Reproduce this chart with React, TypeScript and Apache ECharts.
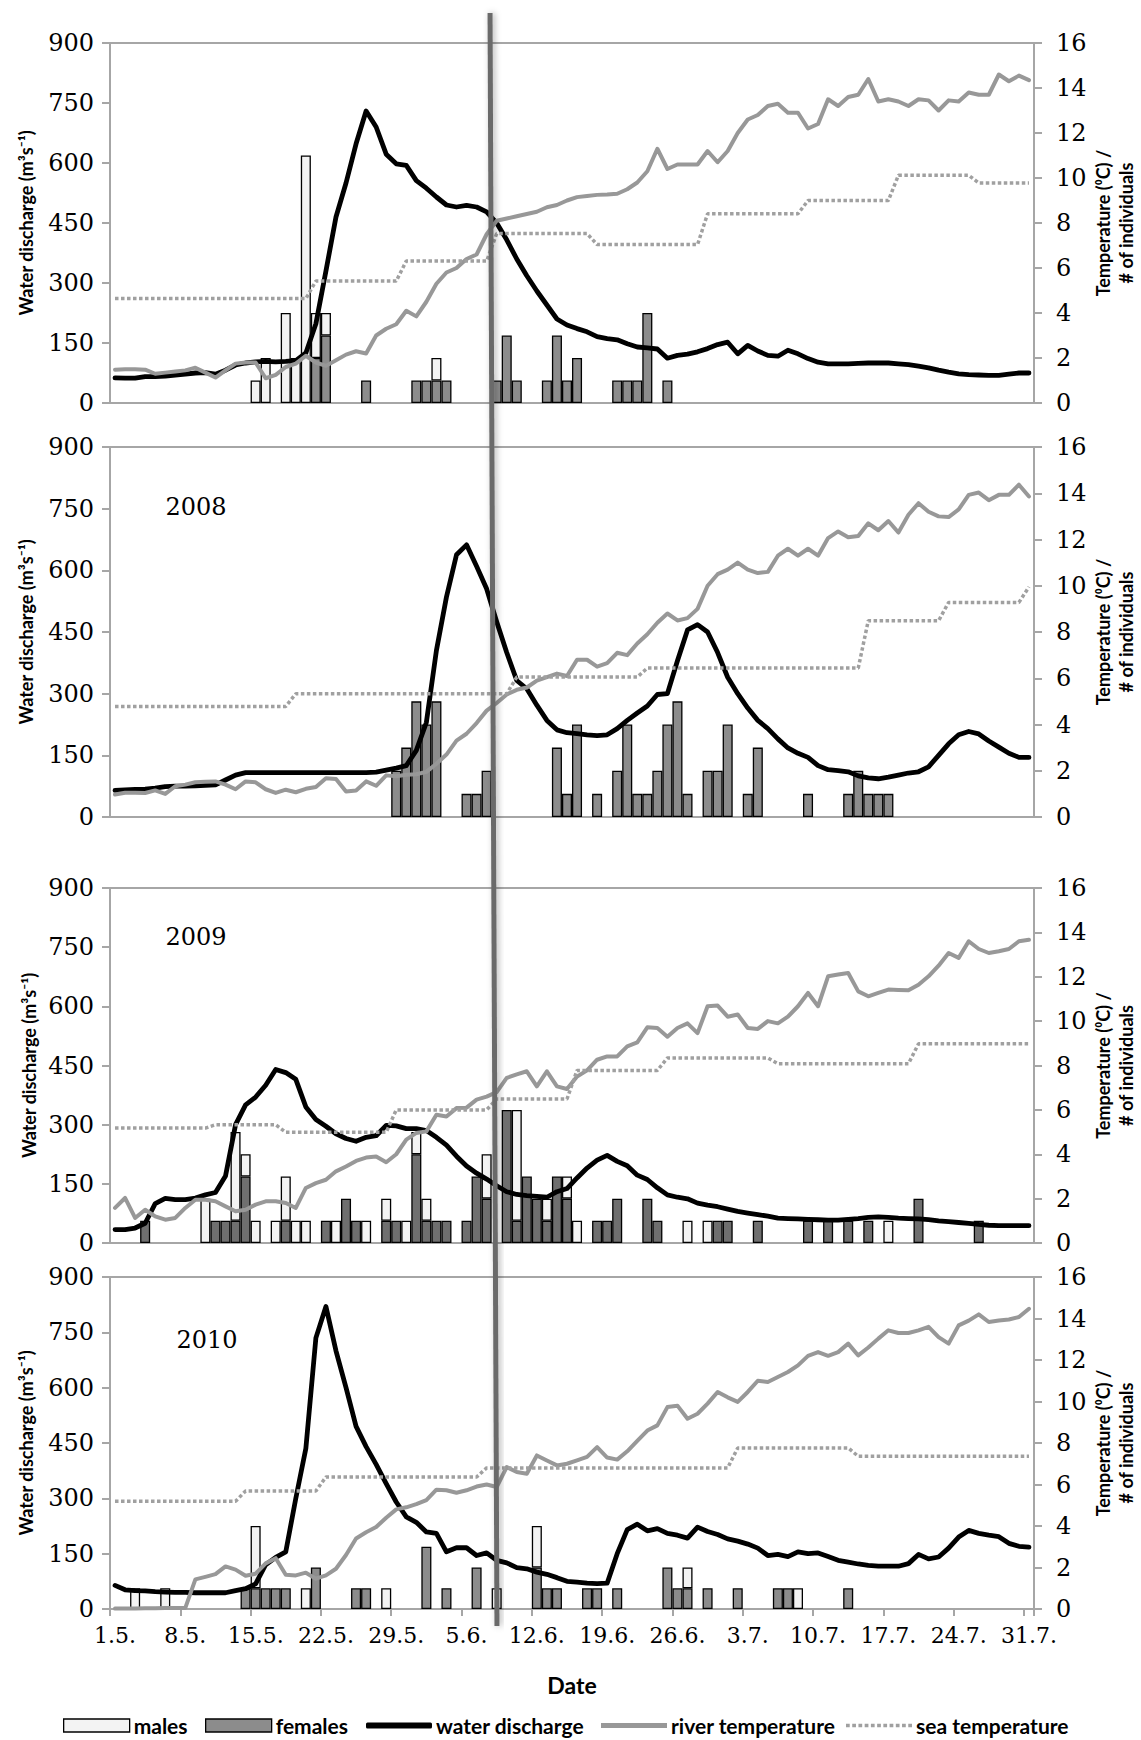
import React, { useEffect, useRef } from "react";
import * as echarts from "echarts";

// ---------- categories (days 1.5. .. 31.7.) ----------
const MONTH_LENGTHS: [number, number][] = [[5, 31], [6, 30], [7, 31]];
const dates: string[] = [];
MONTH_LENGTHS.forEach(([m, n]) => {
  for (let d = 1; d <= n; d++) dates.push(`${d}.${m}.`);
});

const panelYears = ["", "2008", "2009", "2010"];

// ---------- panel 1 ----------
const discharge1 = [
  63, 62, 62, 66, 66, 67, 70, 72, 75, 76,
  72, 82, 95, 100, 103, 104, 103, 104, 106, 125,
  198, 330, 465, 550, 648, 730, 690, 622, 598, 594,
  556, 537, 515, 495, 490, 494, 490, 478, 450, 408,
  360, 318, 280, 245, 210, 195, 186, 178, 166, 161,
  158, 148, 140, 138, 135, 112, 119, 122, 128, 136,
  146, 152, 123, 144, 130, 119, 117, 132, 123, 111,
  102, 98, 98, 98, 99, 100, 100, 100, 98, 96,
  92, 88, 82, 77, 73, 71, 70, 69, 69, 72,
  75, 75,
];
const riverTemp1 = [
  1.48, 1.5, 1.5, 1.48, 1.3, 1.35, 1.4, 1.45, 1.57, 1.35,
  1.13, 1.45, 1.75, 1.8, 1.8, 1.1, 1.25, 1.6, 1.75, 2.1,
  1.8, 1.65, 1.9, 2.15, 2.3, 2.2, 3.0, 3.3, 3.5, 4.1,
  3.85, 4.5, 5.3, 5.8, 6.0, 6.4, 6.6, 7.5, 8.1, 8.2,
  8.3, 8.4, 8.5, 8.7, 8.8, 9.0, 9.15, 9.2, 9.25, 9.27,
  9.3, 9.5, 9.8, 10.3, 11.3, 10.4, 10.6, 10.6, 10.6, 11.2,
  10.7, 11.2, 12.0, 12.6, 12.8, 13.2, 13.3, 12.9, 12.9, 12.2,
  12.4, 13.5, 13.2, 13.6, 13.7, 14.4, 13.4, 13.5, 13.4, 13.2,
  13.5, 13.45, 13.0, 13.45, 13.4, 13.8, 13.7, 13.7, 14.6, 14.3,
  14.55, 14.35,
];
const seaTemp1 = [
  4.64, 4.64, 4.64, 4.64, 4.64, 4.64, 4.64, 4.64, 4.64, 4.64,
  4.64, 4.64, 4.64, 4.64, 4.64, 4.64, 4.64, 4.64, 4.64, 4.64,
  5.42, 5.42, 5.42, 5.42, 5.42, 5.42, 5.42, 5.42, 5.42, 6.31,
  6.31, 6.31, 6.31, 6.31, 6.31, 6.31, 6.31, 6.31, 7.53, 7.53,
  7.53, 7.53, 7.53, 7.53, 7.53, 7.53, 7.53, 7.53, 7.04, 7.04,
  7.04, 7.04, 7.04, 7.04, 7.04, 7.04, 7.04, 7.04, 7.04, 8.41,
  8.41, 8.41, 8.41, 8.41, 8.41, 8.41, 8.41, 8.41, 8.41, 9.0,
  9.0, 9.0, 9.0, 9.0, 9.0, 9.0, 9.0, 9.0, 10.12, 10.12,
  10.12, 10.12, 10.12, 10.12, 10.12, 10.12, 9.78, 9.78, 9.78, 9.78,
  9.78, 9.78,
];
const females1: [number, number][] = [
  [20, 2], [21, 3], [25, 1], [30, 1], [31, 1], [32, 1], [33, 1], [38, 1], [39, 3], [40, 1],
  [43, 1], [44, 3], [45, 1], [46, 2], [50, 1], [51, 1], [52, 1], [53, 4], [55, 1],
];
const males1: [number, number][] = [
  [14, 1], [15, 2], [17, 4], [18, 2], [19, 11], [20, 2], [21, 1], [32, 1],
];

// ---------- panel 2 (2008) ----------
const discharge2 = [
  65, 66, 67, 68, 70, 74, 75, 75, 76, 77,
  78, 90, 102, 108, 108, 108, 108, 108, 108, 108,
  108, 108, 108, 108, 108, 108, 109, 114, 119, 125,
  162, 230, 405, 535, 638, 662, 610, 555, 475, 400,
  332, 312, 272, 235, 212, 205, 203, 200, 198, 200,
  215, 235, 253, 270, 298, 300, 380, 455, 468, 450,
  400, 340, 300, 265, 235, 215, 190, 168, 155, 145,
  125, 115, 113, 110, 100, 95, 93, 97, 102, 107,
  110, 122, 150, 178, 200, 208, 202, 185, 170, 155,
  145, 145,
];
const riverTemp2 = [
  0.97, 1.05, 1.05, 1.04, 1.15, 1.0, 1.33, 1.4, 1.5, 1.52,
  1.54, 1.4, 1.2, 1.54, 1.5, 1.2, 1.04, 1.18, 1.07, 1.22,
  1.3, 1.68, 1.64, 1.1, 1.15, 1.54, 1.35, 1.8, 1.76, 1.83,
  1.85, 1.95, 2.3, 2.7, 3.3, 3.6, 4.06, 4.6, 4.93, 5.3,
  5.5, 5.6, 5.9, 6.05, 6.2, 6.1, 6.8, 6.8, 6.5, 6.65,
  7.1, 7.0, 7.5, 7.9, 8.4, 8.8, 8.5, 8.6, 9.0, 10.0,
  10.5, 10.7, 11.0, 10.7, 10.55, 10.6, 11.3, 11.6, 11.3, 11.6,
  11.3, 12.06, 12.35, 12.1, 12.15, 12.7, 12.4, 12.8, 12.3, 13.07,
  13.57, 13.2, 13.0, 12.97, 13.3, 13.93, 14.03, 13.7, 13.93, 13.93,
  14.37, 13.86,
];
const seaTemp2 = [
  4.78, 4.78, 4.78, 4.78, 4.78, 4.78, 4.78, 4.78, 4.78, 4.78,
  4.78, 4.78, 4.78, 4.78, 4.78, 4.78, 4.78, 4.78, 5.33, 5.33,
  5.33, 5.33, 5.33, 5.33, 5.33, 5.33, 5.33, 5.33, 5.33, 5.33,
  5.33, 5.33, 5.33, 5.33, 5.33, 5.33, 5.33, 5.33, 5.33, 5.33,
  6.05, 6.05, 6.05, 6.05, 6.05, 6.05, 6.05, 6.05, 6.05, 6.05,
  6.05, 6.05, 6.05, 6.44, 6.44, 6.44, 6.44, 6.44, 6.44, 6.44,
  6.44, 6.44, 6.44, 6.44, 6.44, 6.44, 6.44, 6.44, 6.44, 6.44,
  6.44, 6.44, 6.44, 6.44, 6.44, 8.49, 8.49, 8.49, 8.49, 8.49,
  8.49, 8.49, 8.49, 9.28, 9.28, 9.28, 9.28, 9.28, 9.28, 9.28,
  9.28, 9.95,
];
const females2: [number, number][] = [
  [28, 2], [29, 3], [30, 5], [31, 4], [32, 5], [35, 1], [36, 1], [37, 2], [44, 3], [45, 1],
  [46, 4], [48, 1], [50, 2], [51, 4], [52, 1], [53, 1], [54, 2], [55, 4], [56, 5], [57, 1],
  [59, 2], [60, 2], [61, 4], [63, 1], [64, 3], [69, 1], [73, 1], [74, 2], [75, 1], [76, 1],
  [77, 1],
];
const males2: [number, number][] = [];

// ---------- panel 3 (2009) ----------
const discharge3 = [
  34, 34, 38, 50, 100, 113, 110, 110, 114, 122,
  128, 170, 300, 350, 370, 400, 440, 432, 415, 345,
  313, 296, 277, 265, 258, 268, 272, 298, 297, 290,
  290, 285, 268, 248, 220, 195, 177, 162, 145, 130,
  123, 120, 118, 116, 130, 138, 165, 190, 210, 222,
  207, 196, 172, 161, 140, 122, 116, 112, 101, 96,
  92, 86, 80, 76, 72, 68, 63, 62, 61, 60,
  59, 58, 58, 60, 62, 65, 66, 65, 63, 62,
  61, 59, 56, 54, 52, 50, 47, 45, 44, 44,
  44, 44,
];
const riverTemp3 = [
  1.58, 2.03, 1.13, 1.5, 1.2, 1.05, 1.13, 1.58, 1.95, 1.95,
  1.88, 1.65, 1.43, 1.5, 1.73, 1.88, 1.88, 1.8, 1.58, 2.48,
  2.7, 2.85, 3.23, 3.45, 3.7, 3.85, 3.9, 3.64, 4.0, 4.66,
  4.96, 5.03, 5.78, 5.7, 6.08, 6.1, 6.46, 6.6, 6.8, 7.44,
  7.6, 7.74, 7.06, 7.74, 7.06, 6.94, 7.5, 7.78, 8.26, 8.41,
  8.41, 8.86, 9.04, 9.72, 9.69, 9.3, 9.69, 9.9, 9.46, 10.67,
  10.7, 10.2, 10.3, 9.69, 9.65, 10.0, 9.9, 10.2, 10.67, 11.27,
  10.67, 12.02, 12.1, 12.17, 11.34, 11.12, 11.27, 11.42, 11.4, 11.39,
  11.64, 12.02, 12.5, 13.07, 12.85, 13.6, 13.25, 13.07, 13.15, 13.25,
  13.6, 13.67,
];
const seaTemp3 = [
  5.18, 5.18, 5.18, 5.18, 5.18, 5.18, 5.18, 5.18, 5.18, 5.18,
  5.33, 5.33, 5.33, 5.33, 5.33, 5.33, 5.33, 4.99, 4.99, 4.99,
  4.99, 4.99, 4.99, 4.99, 4.99, 4.99, 4.99, 4.99, 6.0, 6.0,
  6.0, 6.0, 6.0, 6.0, 6.0, 6.0, 6.0, 6.0, 6.49, 6.49,
  6.49, 6.49, 6.49, 6.49, 6.49, 6.49, 7.78, 7.78, 7.78, 7.78,
  7.78, 7.78, 7.78, 7.78, 7.78, 8.34, 8.34, 8.34, 8.34, 8.34,
  8.34, 8.34, 8.34, 8.34, 8.34, 8.34, 8.08, 8.08, 8.08, 8.08,
  8.08, 8.08, 8.08, 8.08, 8.08, 8.08, 8.08, 8.08, 8.08, 8.08,
  8.98, 8.98, 8.98, 8.98, 8.98, 8.98, 8.98, 8.98, 8.98, 8.98,
  8.98, 8.98,
];
const females3: [number, number][] = [
  [3, 1], [10, 1], [11, 1], [12, 1], [13, 3], [17, 1], [21, 1], [23, 2], [24, 1], [27, 1],
  [28, 1], [30, 4], [31, 1], [32, 1], [33, 1], [35, 1], [36, 3], [37, 2], [39, 6], [40, 1],
  [41, 3], [42, 2], [43, 1], [44, 3], [45, 2], [48, 1], [49, 1], [50, 2], [53, 2], [54, 1],
  [60, 1], [61, 1], [64, 1], [69, 1], [71, 1], [73, 1], [75, 1], [80, 2], [86, 1],
];
const males3: [number, number][] = [
  [9, 2], [12, 4], [13, 1], [14, 1], [16, 1], [17, 2], [18, 1], [19, 1], [22, 1], [25, 1],
  [27, 1], [29, 1], [30, 1], [31, 1], [37, 2], [40, 5], [43, 1], [45, 1], [46, 1], [57, 1],
  [59, 1], [77, 1],
];

// ---------- panel 4 (2010) ----------
const discharge4 = [
  64, 52, 50, 49, 47, 46, 45, 45, 44, 44,
  44, 44, 50, 55, 68, 120, 140, 155, 300, 435,
  735, 820, 700, 600, 495, 440, 392, 340, 290, 250,
  235, 209, 205, 155, 166, 166, 145, 152, 132, 125,
  112, 109, 100, 94, 85, 75, 73, 70, 69, 70,
  150, 215, 230, 212, 218, 205, 200, 192, 222, 210,
  202, 190, 184, 176, 165, 145, 148, 142, 155, 150,
  152, 142, 132, 127, 122, 118, 116, 116, 116, 123,
  148, 136, 141, 165, 195, 213, 205, 200, 196, 178,
  170, 168,
];
const riverTemp4 = [
  0.02, 0.03, 0.03, 0.04, 0.04, 0.05, 0.05, 0.05, 1.43, 1.55,
  1.68, 2.05, 1.9, 1.6, 1.7, 2.2, 2.45, 1.65, 1.62, 1.75,
  1.46, 1.62, 1.94, 2.6, 3.4, 3.7, 3.95, 4.4, 4.8, 4.9,
  5.05, 5.25, 5.75, 5.72, 5.6, 5.72, 5.9, 6.0, 5.88, 6.84,
  6.6, 6.52, 7.4, 7.16, 6.92, 7.0, 7.16, 7.33, 7.8, 7.3,
  7.2, 7.6, 8.1, 8.6, 8.85, 9.73, 9.8, 9.17, 9.41, 9.9,
  10.46, 10.2, 9.98, 10.46, 11.0, 10.94, 11.18, 11.42, 11.74, 12.2,
  12.38, 12.2, 12.38, 12.79, 12.22, 12.6, 13.03, 13.43, 13.3, 13.3,
  13.43, 13.6, 13.1, 12.79, 13.67, 13.9, 14.2, 13.83, 13.9, 13.95,
  14.07, 14.47,
];
const seaTemp4 = [
  5.19, 5.19, 5.19, 5.19, 5.19, 5.19, 5.19, 5.19, 5.19, 5.19,
  5.19, 5.19, 5.19, 5.69, 5.69, 5.69, 5.69, 5.69, 5.69, 5.69,
  5.69, 6.36, 6.36, 6.36, 6.36, 6.36, 6.36, 6.36, 6.36, 6.36,
  6.36, 6.36, 6.36, 6.36, 6.36, 6.36, 6.36, 6.8, 6.8, 6.8,
  6.8, 6.8, 6.8, 6.8, 6.8, 6.8, 6.8, 6.8, 6.8, 6.8,
  6.8, 6.8, 6.8, 6.8, 6.8, 6.8, 6.8, 6.8, 6.8, 6.8,
  6.8, 6.8, 7.76, 7.76, 7.76, 7.76, 7.76, 7.76, 7.76, 7.76,
  7.76, 7.76, 7.76, 7.76, 7.36, 7.36, 7.36, 7.36, 7.36, 7.36,
  7.36, 7.36, 7.36, 7.36, 7.36, 7.36, 7.36, 7.36, 7.36, 7.36,
  7.36, 7.36,
];
const females4: [number, number][] = [
  [13, 1], [14, 1], [15, 1], [16, 1], [17, 1], [20, 2], [24, 1], [25, 1], [31, 3], [33, 1],
  [36, 2], [42, 2], [43, 1], [44, 1], [47, 1], [48, 1], [50, 1], [55, 2], [56, 1], [57, 1],
  [59, 1], [62, 1], [66, 1], [67, 1], [73, 1],
];
const males4: [number, number][] = [
  [2, 1], [5, 1], [14, 3], [19, 1], [27, 1], [38, 1], [42, 2], [57, 1], [68, 1],
];

// vertical marker line (day positions at top / bottom of the figure)
const markerDayTop = 37.84;
const markerDayBottom = 38.53;

// ---------- layout ----------
const W = 1141;
const H = 1740;
const GRID_LEFT = 110;
const GRID_RIGHT = 107;
const GRID_TOPS = [43, 447, 888, 1277];
const GRID_HEIGHTS = [360, 370, 355, 332];
const FEMALE_COLORS = ["#8c8c8c", "#8c8c8c", "#6f6f6f", "#8c8c8c"];

const panels = [
  { discharge: discharge1, river: riverTemp1, sea: seaTemp1, females: females1, males: males1 },
  { discharge: discharge2, river: riverTemp2, sea: seaTemp2, females: females2, males: males2 },
  { discharge: discharge3, river: riverTemp3, sea: seaTemp3, females: females3, males: males3 },
  { discharge: discharge4, river: riverTemp4, sea: seaTemp4, females: females4, males: males4 },
];

function toDaily(pairs: [number, number][]) {
  const arr: (number | string)[] = dates.map(() => "-");
  pairs.forEach(([d, c]) => {
    arr[d] = c;
  });
  return arr;
}

const AXIS_GREY = "#a6a6a6";
const SERIF = "DejaVu Serif";
const SANS = "Lato";

// dotted legend swatch for the sea temperature line
let dotPath = "path://";
for (let i = 0; i < 11; i++) dotPath += `M${i * 6} 0h3.6v3.6h-3.6z `;

function buildOption() {
  const grid: any[] = [];
  const xAxis: any[] = [];
  const yAxis: any[] = [];
  const series: any[] = [];
  const graphic: any[] = [];

  panels.forEach((p, k) => {
    grid.push({
      left: GRID_LEFT,
      right: GRID_RIGHT,
      top: GRID_TOPS[k],
      height: GRID_HEIGHTS[k],
      show: true,
      borderColor: AXIS_GREY,
      borderWidth: 2,
      backgroundColor: "transparent",
    });
    const isLast = k === panels.length - 1;
    xAxis.push({
      type: "category",
      gridIndex: k,
      data: dates,
      boundaryGap: true,
      axisLine: { show: true, lineStyle: { color: AXIS_GREY, width: 2 } },
      axisTick: { show: isLast, interval: 6, length: 7, lineStyle: { color: AXIS_GREY, width: 2 } },
      axisLabel: {
        show: isLast,
        interval: 6,
        margin: 15,
        color: "#000",
        fontFamily: SERIF,
        fontSize: 22,
      },
      splitLine: { show: false },
    });
    yAxis.push({
      type: "value",
      gridIndex: k,
      position: "left",
      min: 0,
      max: 900,
      interval: 150,
      axisLine: { show: true, lineStyle: { color: AXIS_GREY, width: 2 } },
      axisTick: { show: true, length: 8, lineStyle: { color: AXIS_GREY, width: 2 } },
      axisLabel: { margin: 16, color: "#000", fontFamily: SERIF, fontSize: 24 },
      splitLine: { show: false },
    });
    yAxis.push({
      type: "value",
      gridIndex: k,
      position: "right",
      min: 0,
      max: 16,
      interval: 2,
      axisLine: { show: true, lineStyle: { color: AXIS_GREY, width: 2 } },
      axisTick: { show: true, length: 8, lineStyle: { color: AXIS_GREY, width: 2 } },
      axisLabel: { margin: 22, color: "#000", fontFamily: SERIF, fontSize: 24 },
      splitLine: { show: false },
    });

    const leftY = 2 * k;
    const rightY = 2 * k + 1;
    series.push({
      type: "bar",
      name: "females",
      xAxisIndex: k,
      yAxisIndex: rightY,
      stack: "fish" + k,
      barCategoryGap: "0%",
      data: toDaily(p.females),
      itemStyle: { color: FEMALE_COLORS[k], borderColor: "#000", borderWidth: 1.3 },
      z: 2,
    });
    series.push({
      type: "bar",
      name: "males",
      xAxisIndex: k,
      yAxisIndex: rightY,
      stack: "fish" + k,
      barCategoryGap: "0%",
      data: toDaily(p.males),
      itemStyle: { color: "#f3f3f3", borderColor: "#000", borderWidth: 1.3 },
      z: 2,
    });
    series.push({
      type: "line",
      name: "water discharge",
      xAxisIndex: k,
      yAxisIndex: leftY,
      data: p.discharge,
      symbol: "none",
      itemStyle: { color: "#000" },
      lineStyle: { color: "#000", width: 4.8, join: "round", cap: "round" },
      z: 3,
    });
    series.push({
      type: "line",
      name: "river temperature",
      xAxisIndex: k,
      yAxisIndex: rightY,
      data: p.river,
      symbol: "none",
      itemStyle: { color: "#989898" },
      lineStyle: { color: "#989898", width: 4, join: "round", cap: "round" },
      z: 3,
    });
    series.push({
      type: "line",
      name: "sea temperature",
      xAxisIndex: k,
      yAxisIndex: rightY,
      data: p.sea,
      symbol: "none",
      itemStyle: { color: "#a0a0a0" },
      lineStyle: { color: "#a0a0a0", width: 3.5, type: [3.5, 2.5] },
      z: 3,
    });

    const midY = GRID_TOPS[k] + GRID_HEIGHTS[k] / 2;
    graphic.push({
      type: "text",
      x: k === 2 ? 29 : 26,
      y: midY,
      rotation: Math.PI / 2,
      silent: true,
      style: {
        text: "Water discharge (m³s⁻¹)",
        font: `bold 18px ${SANS}`,
        fill: "#000",
        textAlign: "center",
        textVerticalAlign: "middle",
        align: "center",
        verticalAlign: "middle",
      },
    });
    graphic.push({
      type: "text",
      x: 1114,
      y: midY,
      rotation: Math.PI / 2,
      silent: true,
      style: {
        text: "Temperature (⁰C) /\n# of individuals",
        font: `bold 18px ${SANS}`,
        lineHeight: 23,
        fill: "#000",
        textAlign: "center",
        textVerticalAlign: "middle",
        align: "center",
        verticalAlign: "middle",
      },
    });
    if (panelYears[k]) {
      graphic.push({
        type: "text",
        x: k === 3 ? 207 : 196,
        y: [0, 507, 937, 1340][k],
        silent: true,
        style: {
          text: panelYears[k],
          font: `24px ${SERIF}`,
          fill: "#000",
          textAlign: "center",
          textVerticalAlign: "middle",
          align: "center",
          verticalAlign: "middle",
        },
      });
    }
  });

  graphic.push({
    type: "text",
    x: 572,
    y: 1685,
    silent: true,
    style: {
      text: "Date",
      font: `bold 23px ${SANS}`,
      fill: "#000",
      textAlign: "center",
      textVerticalAlign: "middle",
      align: "center",
      verticalAlign: "middle",
    },
  });

  const dayW = (W - GRID_LEFT - GRID_RIGHT) / dates.length;
  graphic.push({
    type: "line",
    silent: true,
    z: 100,
    shape: {
      x1: GRID_LEFT + markerDayTop * dayW,
      y1: 13,
      x2: GRID_LEFT + markerDayBottom * dayW,
      y2: 1626,
    },
    style: {
      stroke: "#6b6b6b",
      lineWidth: 5,
      shadowBlur: 6,
      shadowColor: "rgba(0,0,0,0.3)",
      shadowOffsetX: 2,
    },
  });

  const legendItems: { name: string; left: number; icon: string; h: number; border: boolean }[] = [
    { name: "males", left: 63, icon: "rect", h: 13, border: true },
    { name: "females", left: 205, icon: "rect", h: 13, border: true },
    { name: "water discharge", left: 366, icon: "roundRect", h: 6, border: false },
    { name: "river temperature", left: 601, icon: "rect", h: 5, border: false },
    { name: "sea temperature", left: 846, icon: dotPath, h: 4, border: false },
  ];
  const legend = legendItems.map((it) => ({
    data: [it.name],
    left: it.left,
    top: 1715,
    itemWidth: 66,
    itemHeight: it.h,
    padding: 0,
    icon: it.icon,
    selectedMode: false,
    itemStyle: it.border ? { borderColor: "#000", borderWidth: 1.3 } : { borderWidth: 0 },
    textStyle: { color: "#000", fontFamily: SANS, fontWeight: "bold", fontSize: 21, padding: [0, 0, 0, -1] },
  }));

  return {
    animation: false,
    backgroundColor: "#ffffff",
    grid,
    xAxis,
    yAxis,
    series,
    legend,
    graphic,
  };
}

export default function App() {
  const ref = useRef<HTMLDivElement>(null);
  useEffect(() => {
    document.body.style.margin = "0";
    if (!ref.current) return;
    const chart = echarts.init(ref.current, undefined, { renderer: "svg" });
    chart.setOption(buildOption() as any);
    return () => {
      chart.dispose();
    };
  }, []);
  return <div ref={ref} style={{ width: W, height: H }} />;
}
